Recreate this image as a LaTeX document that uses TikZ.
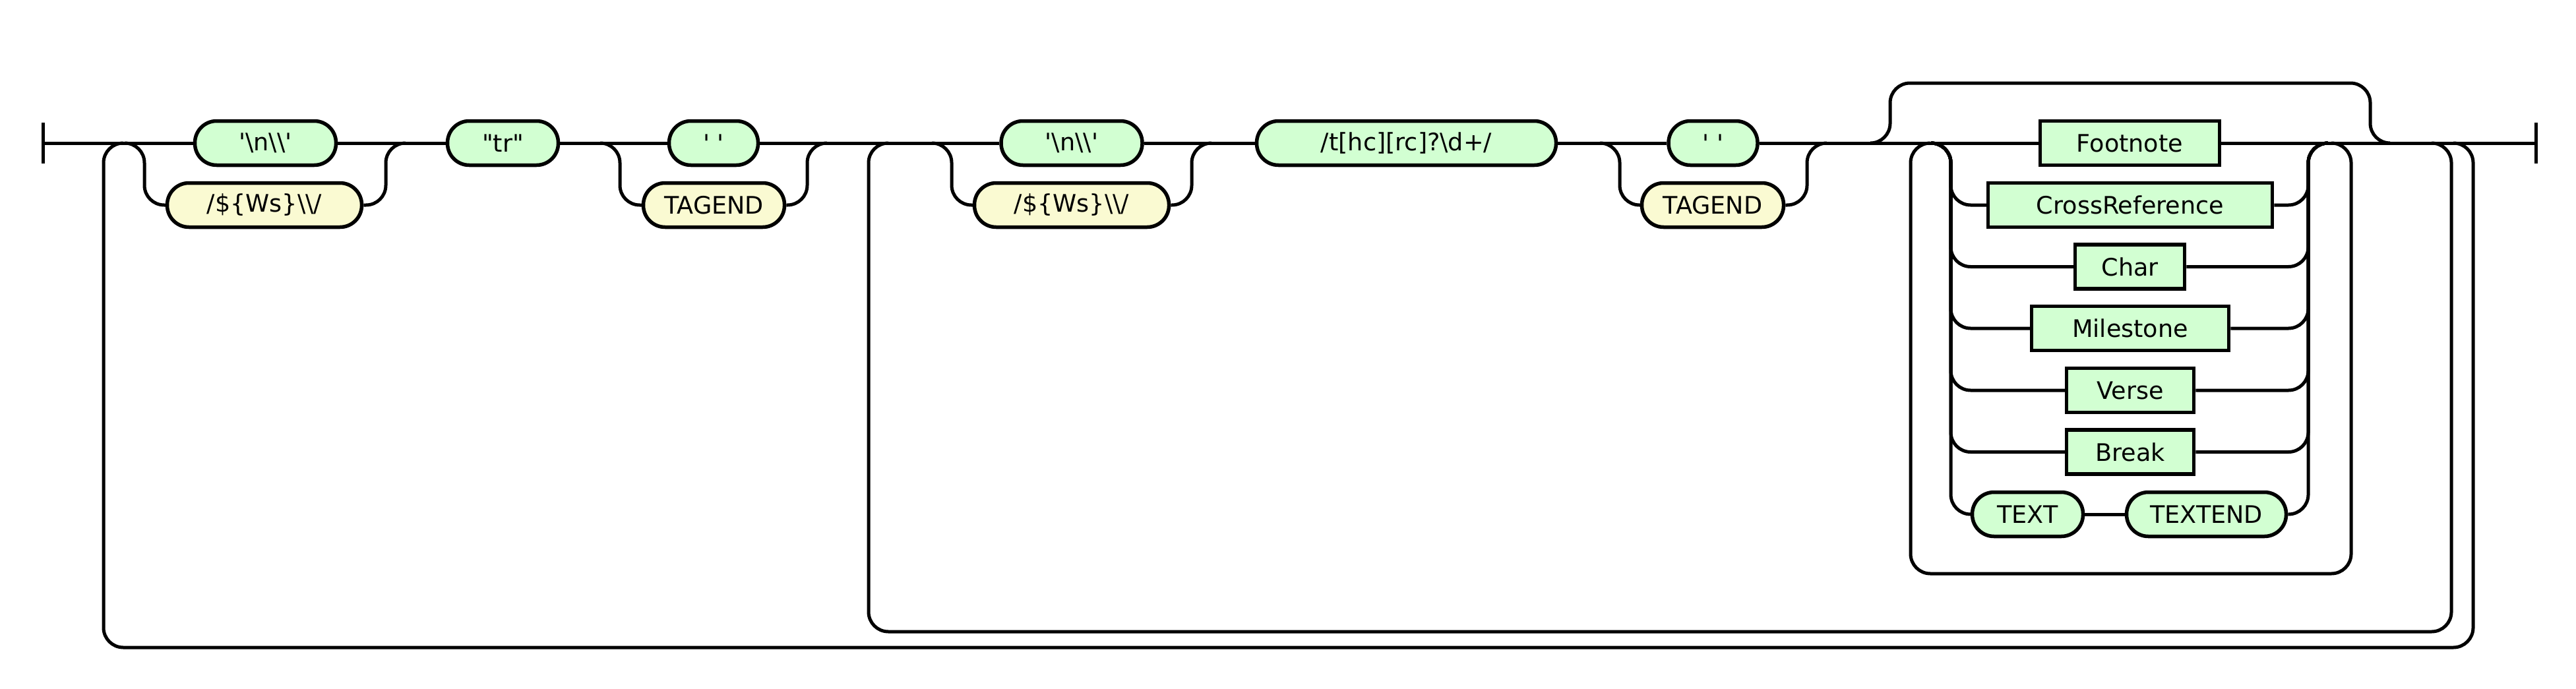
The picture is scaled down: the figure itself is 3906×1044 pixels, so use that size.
\documentclass[tikz,border=0pt]{standalone}
\usepackage{xcolor}
\usepackage{fontspec}
\usepackage{tikz}
\usetikzlibrary{calc, positioning}
\newfontfamily\rrfont{DejaVu Sans}
\definecolor{termgreen}{RGB}{210,255,210}
\definecolor{tagyellow}{RGB}{250,250,210}
\tikzset{
	rr/.style={line width=0.5mm, rounded corners=3mm},
	bar/.style={line width=0.5mm},
	term/.style={draw, line width=0.55mm, rounded corners=3.3mm, fill=termgreen, minimum height=6.7mm, inner sep=0pt, font=\rrfont\fontsize{10.4}{12}\selectfont},
	tagterm/.style={term, fill=tagyellow},
	nterm/.style={term, sharp corners}
}
\begin{document}
\begin{tikzpicture}[x=0.1mm,y=-0.1mm]
        \useasboundingbox (0,0) rectangle (3906,1044);

            \node[term, minimum width=21.4mm] (nl1) at (402.5,217) {'\textbackslash n\textbackslash\textbackslash'};
            \node[tagterm, minimum width=29.5mm] (ws1) at (401,311) {/\$\{Ws\}\textbackslash\textbackslash/};
            \node[term, minimum width=16.8mm] (tr) at (762.5,217) {"tr"};
            \node[term, minimum width=13.5mm] (sp1) at (1082,217) {' '};
            \node[tagterm, minimum width=21.4mm] (te1) at (1082.5,311) {TAGEND};
            \node[term, minimum width=21.4mm] (nl2) at (1625,217) {'\textbackslash n\textbackslash\textbackslash'};
            \node[tagterm, minimum width=29.5mm] (ws2) at (1625,311) {/\$\{Ws\}\textbackslash\textbackslash/};
            \node[term, minimum width=45.4mm] (rx) at (2132.5,217) {/t[hc][rc]?\textbackslash d+/};
            \node[term, minimum width=13.5mm] (sp2) at (2597.5,217) {' '};
            \node[tagterm, minimum width=21.5mm] (te2) at (2597,311) {TAGEND};

            \node[nterm, minimum width=27.2mm] (fn) at (3229.5,217) {Footnote};
            \node[nterm, minimum width=43.1mm] (cr) at (3230,311) {CrossReference};
            \node[nterm, minimum width=16.6mm] (ch) at (3229.5,404.5) {Char};
            \node[nterm, minimum width=29.9mm] (ms) at (3230,498) {Milestone};
            \node[nterm, minimum width=19.3mm] (vs) at (3230,592) {Verse};
            \node[nterm, minimum width=19.3mm] (br) at (3230,685.5) {Break};
            \node[term, minimum width=16.8mm] (tx) at (3074.5,780) {TEXT};
            \node[term, minimum width=24.2mm] (txe) at (3345.5,780) {TEXTEND};

            \coordinate (start) at (65,217);
            \coordinate (stop) at (3845,217);
            \coordinate (aIn) at (189,217);
            \coordinate (aOut) at (615,217);
            \coordinate (bIn) at (910,217);
            \coordinate (bOut) at (1254,217);
            \coordinate (cIn) at (1413,217);
            \coordinate (cOut) at (1837,217);
            \coordinate (dIn) at (2426,217);
            \coordinate (dOut) at (2770,217);
            \coordinate (eIn) at (2928,217);
            \coordinate (eOut) at (3530,217);
            \coordinate (oIn) at (2836,217);
            \coordinate (oNW) at (2866,126);
            \coordinate (oNE) at (3594,126);
            \coordinate (oOut) at (3624,217);
            \coordinate (l1In) at (187,217);
            \coordinate (l1Out) at (3720,217);
            \coordinate (l1SE) at (3750,982);
            \coordinate (l1SW) at (157,982);
            \coordinate (l2In) at (1347,217);
            \coordinate (l2Out) at (3687,217);
            \coordinate (l2SE) at (3717,958);
            \coordinate (l2SW) at (1317,958);
            \coordinate (l3In) at (2927,217);
            \coordinate (l3Out) at (3535,217);
            \coordinate (l3SE) at (3565,870);
            \coordinate (l3SW) at (2897,870);

            \draw[bar] ([yshift=3.1mm]start) -- ([yshift=-3.1mm]start);
            \draw[bar] ([yshift=3.1mm]stop) -- ([yshift=-3.1mm]stop);

            \draw[rr] (start) -- (nl1.west);
            \draw[rr] (nl1.east) -- (tr.west);
            \draw[rr] (tr.east) -- (sp1.west);
            \draw[rr] (sp1.east) -- (nl2.west);
            \draw[rr] (nl2.east) -- (rx.west);
            \draw[rr] (rx.east) -- (sp2.west);
            \draw[rr] (sp2.east) -- (fn.west);
            \draw[rr] (fn.east) -- (stop);

            \draw[rr] (aIn) -| ([xshift=3mm]aIn |- ws1) -- (ws1.west);
            \draw[rr] (ws1.east) -- ([xshift=-3mm]aOut |- ws1) |- (aOut);
            \draw[rr] (bIn) -| ([xshift=3mm]bIn |- te1) -- (te1.west);
            \draw[rr] (te1.east) -- ([xshift=-3mm]bOut |- te1) |- (bOut);
            \draw[rr] (cIn) -| ([xshift=3mm]cIn |- ws2) -- (ws2.west);
            \draw[rr] (ws2.east) -- ([xshift=-3mm]cOut |- ws2) |- (cOut);
            \draw[rr] (dIn) -| ([xshift=3mm]dIn |- te2) -- (te2.west);
            \draw[rr] (te2.east) -- ([xshift=-3mm]dOut |- te2) |- (dOut);

            \foreach \n in {cr,ch,ms,vs,br} {
                \draw[rr] (eIn) -| ([xshift=3mm]eIn |- \n) -- (\n.west);
                \draw[rr] (\n.east) -- ([xshift=-3mm]eOut |- \n) |- (eOut);
            }
            \draw[rr] (eIn) -| ([xshift=3mm]eIn |- tx) -- (tx.west);
            \draw[rr] (tx.east) -- (txe.west);
            \draw[rr] (txe.east) -- ([xshift=-3mm]eOut |- txe) |- (eOut);

            \draw[rr] (oIn) -| (oNW) -- (oNE) |- (oOut);
            \draw[rr] (l3Out) -| (l3SE) -- (l3SW) |- (l3In);
            \draw[rr] (l2Out) -| (l2SE) -- (l2SW) |- (l2In);
            \draw[rr] (l1Out) -| (l1SE) -- (l1SW) |- (l1In);
        \end{tikzpicture}
\end{document}
